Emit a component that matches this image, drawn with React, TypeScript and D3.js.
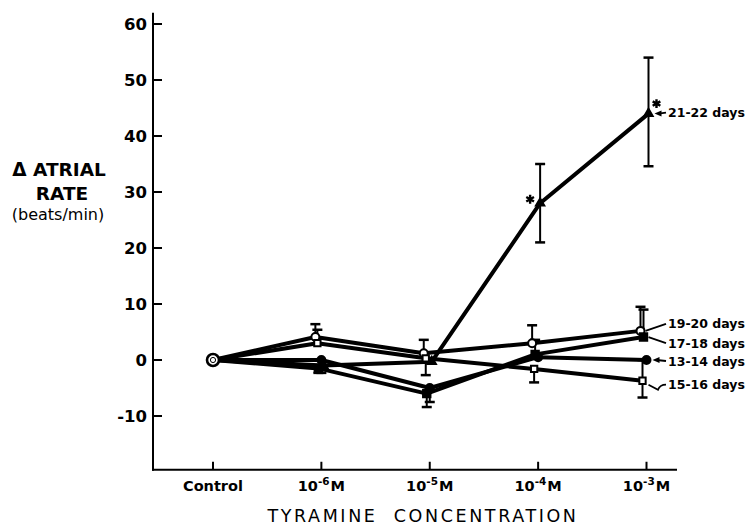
import * as d3 from "d3";
import React from "react";

// x axis: tyramine concentration steps
const concentrations = ["Control", "1e-6", "1e-5", "1e-4", "1e-3"];
const exponents = ["", "-6", "-5", "-4", "-3"];

// mean change in atrial rate (beats/min) per age group
const rate1920 = [0, 4.1, 1.2, 3, 5.2];
const rate1718 = [0, -1.5, -6, 1, 4.1];
const rate1314 = [0, 0, -5, 0.5, 0];
const rate1516 = [0, 3, 0.3, -1.6, -3.7];
const rate2122 = [0, -1, -0.3, 28, 44];

// error bars, only the side drawn in the figure
const up1920 = [0, 2.3, 2.4, 3.2, 4.3];
const down1920 = [0, 0, 0, 0, 0];
const up1718 = [0, 0, 0, 2.6, 4.9];
const down1718 = [0, 0.8, 2.4, 0, 0];
const up1314 = [0, 0, 0, 0, 0];
const down1314 = [0, 2.3, 2.5, 0, 0];
const up1516 = [0, 2.4, 0, 0, 3.7];
const down1516 = [0, 0, 3, 2.4, 3];
const up2122 = [0, 0, 0, 7, 10];
const down2122 = [0, 0, 0, 7, 9.4];

// asterisks (significant)
const signif2122 = [false, false, false, true, true];

const yTicks = [-10, 0, 10, 20, 30, 40, 50, 60];

const W = 746;
const H = 527;
const FONT = "'DejaVu Sans', sans-serif";

interface Series {
    name: string;
    values: number[];
    up: number[];
    down: number[];
    signif?: boolean[];
    symbol: d3.SymbolType;
    size: number;
    filled: boolean;
    dx: number;
    labelDy: number;
    leader: "line" | "arrow" | "hook";
}

const series: Series[] = [
    { name: "19-20 days", values: rate1920, up: up1920, down: down1920, symbol: d3.symbolCircle, size: 50, filled: false, dx: -6, labelDy: -7, leader: "line" },
    { name: "17-18 days", values: rate1718, up: up1718, down: down1718, symbol: d3.symbolSquare, size: 55, filled: true, dx: -3, labelDy: 6, leader: "line" },
    { name: "13-14 days", values: rate1314, up: up1314, down: down1314, symbol: d3.symbolCircle, size: 50, filled: true, dx: 0, labelDy: 1, leader: "arrow" },
    { name: "15-16 days", values: rate1516, up: up1516, down: down1516, symbol: d3.symbolSquare, size: 40, filled: false, dx: -4, labelDy: 4, leader: "hook" },
    { name: "21-22 days", values: rate2122, up: up2122, down: down2122, signif: signif2122, symbol: d3.symbolTriangle, size: 30, filled: true, dx: 2, labelDy: -1, leader: "arrow" },
];

function App() {
    const x = d3.scalePoint<string>().domain(concentrations).range([213, 646.5]);
    const y = d3.scaleLinear().domain([-10, 60]).range([416, 24]);

    const axisX0 = 153;
    const axisX1 = 677;
    const axisY0 = y(-19.6);
    const axisY1 = y(62);

    const px = (s: Series, i: number) => (x(concentrations[i]) as number) + (i === 0 ? 0 : s.dx);

    const labelX = 668;

    return (
        <svg width={W} height={H} style={{ position: "absolute", left: 0, top: 0, background: "#fff" }}
            fontFamily={FONT}>
            {/* axes */}
            <g stroke="#000" strokeWidth={2} fill="none">
                <line x1={axisX0} x2={axisX0} y1={axisY1} y2={axisY0 + 1} />
                <line x1={axisX0 - 1} x2={axisX1} y1={axisY0} y2={axisY0} />
                {yTicks.map(t => (
                    <line key={t} x1={axisX0} x2={axisX0 + 9} y1={y(t)} y2={y(t)} />
                ))}
                {concentrations.map(c => (
                    <line key={c} x1={x(c)} x2={x(c)} y1={axisY0} y2={axisY0 - 8} />
                ))}
            </g>
            {yTicks.map(t => (
                <text key={t} x={147} y={y(t)} dy="0.37em" textAnchor="end" fontSize={16.5} fontWeight="bold">{t}</text>
            ))}
            {concentrations.map((c, i) => (
                <text key={c} x={x(c)} y={491} textAnchor="middle" fontSize={14.5} fontWeight="bold">
                    {i === 0 ? "Control" : (
                        <>
                            10<tspan dy={-6} fontSize={10.5}>{exponents[i]}</tspan>
                            <tspan dy={6} dx={1}>M</tspan>
                        </>
                    )}
                </text>
            ))}

            {/* axis titles */}
            <text x={423} y={522} textAnchor="middle" fontSize={17.5} letterSpacing={2.6}>
                {"TYRAMINE\u00a0\u00a0CONCENTRATION"}
            </text>
            <g textAnchor="middle">
                <text x={59} y={176} fontSize={18.5} fontWeight="bold">{"\u0394 ATRIAL"}</text>
                <text x={62} y={200} fontSize={18.5} fontWeight="bold">RATE</text>
                <text x={58} y={220} fontSize={16}>(beats/min)</text>
            </g>

            {/* lines */}
            {series.map(s => {
                const line = d3.line<number>()
                    .x((_, i) => px(s, i))
                    .y(v => y(v));
                return <path key={s.name} d={line(s.values) || ""} fill="none" stroke="#000" strokeWidth={4} strokeLinejoin="round" />;
            })}

            {/* error bars */}
            {series.map(s => s.values.map((v, i) => {
                const cx = px(s, i);
                const out: any[] = [];
                if (s.up[i] > 0) {
                    out.push(<line key={"u" + i} x1={cx} x2={cx} y1={y(v)} y2={y(v + s.up[i])} stroke="#000" strokeWidth={2} />);
                    out.push(<line key={"uc" + i} x1={cx - 5} x2={cx + 5} y1={y(v + s.up[i])} y2={y(v + s.up[i])} stroke="#000" strokeWidth={2.5} />);
                }
                if (s.down[i] > 0) {
                    out.push(<line key={"d" + i} x1={cx} x2={cx} y1={y(v)} y2={y(v - s.down[i])} stroke="#000" strokeWidth={2} />);
                    out.push(<line key={"dc" + i} x1={cx - 5} x2={cx + 5} y1={y(v - s.down[i])} y2={y(v - s.down[i])} stroke="#000" strokeWidth={2.5} />);
                }
                return <g key={s.name + i}>{out}</g>;
            }))}

            {/* markers */}
            {series.map(s => s.values.map((v, i) => i === 0 ? null : (
                <path key={s.name + "m" + i}
                    d={d3.symbol(s.symbol, s.size)() || ""}
                    transform={`translate(${px(s, i)},${y(v)})`}
                    fill={s.filled ? "#000" : "#fff"}
                    stroke="#000" strokeWidth={2} />
            )))}

            {/* control point shared by all groups */}
            <circle cx={x("Control")} cy={y(0)} r={6} fill="#fff" stroke="#000" strokeWidth={2.6} />
            <circle cx={x("Control")} cy={y(0)} r={2.6} fill="#fff" stroke="#000" strokeWidth={1} />

            {/* asterisks */}
            {series.filter(s => s.signif).map(s => s.values.map((v, i) => {
                if (!s.signif || !s.signif[i]) return null;
                const last = i === s.values.length - 1;
                const ax = px(s, i) + (last ? 8 : -10);
                const ay = y(v) + (last ? -10 : -4);
                return <path key={s.name + "s" + i} d={d3.symbol(d3.symbolAsterisk, 55)() || ""}
                    transform={`translate(${ax},${ay})`} stroke="#000" strokeWidth={2.4} fill="none" />;
            }))}

            {/* group labels with leaders */}
            {series.map(s => {
                const n = s.values.length - 1;
                const cx = px(s, n);
                const cy = y(s.values[n]);
                const ly = cy + s.labelDy;
                let leader: any;
                if (s.leader === "arrow") {
                    const tip = cx + 6;
                    leader = (
                        <g>
                            <line x1={labelX - 2} x2={tip + 4} y1={ly} y2={cy} stroke="#000" strokeWidth={1.8} />
                            <path d={`M${tip},${cy} L${tip + 7},${cy - 3} L${tip + 7},${cy + 3} Z`} fill="#000" />
                        </g>
                    );
                } else if (s.leader === "hook") {
                    leader = <path d={`M${labelX - 2},${ly} Q${labelX - 8},${ly} ${labelX - 10},${ly + 5} L${cx + 6},${cy + 4}`}
                        fill="none" stroke="#000" strokeWidth={1.8} />;
                } else {
                    leader = <line x1={labelX - 2} x2={cx + 5} y1={ly} y2={cy} stroke="#000" strokeWidth={1.8} />;
                }
                return (
                    <g key={s.name + "lab"}>
                        {leader}
                        <text x={labelX} y={ly} dy="0.36em" fontSize={12.5} fontWeight="bold">{s.name}</text>
                    </g>
                );
            })}
        </svg>
    );
}

export default App;
